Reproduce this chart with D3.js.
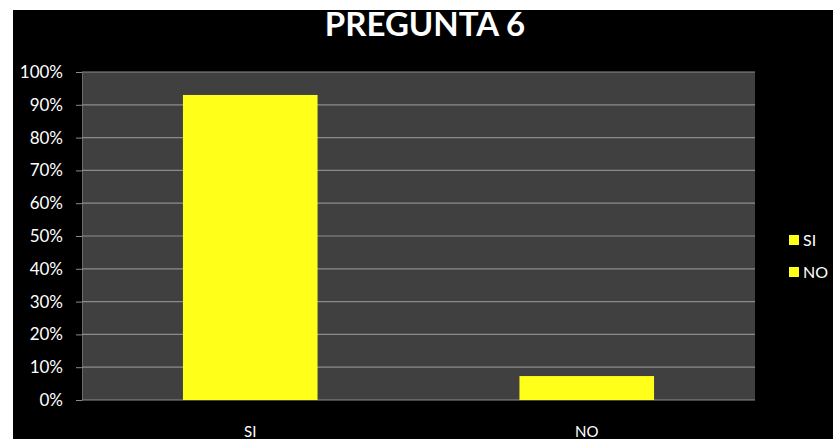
<!DOCTYPE html>
<html><head><meta charset="utf-8">
<script src="https://cdn.jsdelivr.net/npm/d3@7"></script>
<style>body{margin:0;background:#fff}svg{display:block}</style>
</head><body>
<svg id="c" width="833" height="439"></svg>
<script>
const title = "PREGUNTA 6";
const categories = ["SI", "NO"];
const values = [0.93, 0.073];
const yTicks = [0,0.1,0.2,0.3,0.4,0.5,0.6,0.7,0.8,0.9,1.0];
const legendLabels = ["SI", "NO"];

const svg = d3.select("#c");
const font = "Lato, 'Open Sans', sans-serif";
svg.append("rect").attr("x",13).attr("y",10).attr("width",820).attr("height",429).attr("fill","#000");

const m = {l:82, r:755, t:72, b:400};
const x = d3.scaleBand().domain(categories).range([m.l,m.r]).paddingInner(0).paddingOuter(0);
const y = d3.scaleLinear().domain([0,1]).range([m.b,m.t]);

svg.append("rect").attr("x",m.l).attr("y",m.t).attr("width",m.r-m.l).attr("height",m.b-m.t).attr("fill","#404040");

const yAxis = d3.axisLeft(y).tickValues(yTicks).tickFormat(d3.format(".0%")).tickSize(6).tickSizeOuter(0);
const ga = svg.append("g").attr("transform",`translate(${m.l},0)`).call(yAxis);
ga.select(".domain").attr("stroke","#6a6a6a");
ga.selectAll(".tick line").attr("stroke","#8a8a8a");
ga.selectAll(".tick text").attr("fill","#fff").attr("font-family",font).attr("font-size",17).attr("x",-19);

svg.append("g").selectAll("line").data(yTicks).join("line")
  .attr("x1",m.l).attr("x2",m.r).attr("y1",d=>y(d)).attr("y2",d=>y(d))
  .attr("stroke","#8c8c8c").attr("stroke-width",1.2);

const bw = x.bandwidth()*0.4;
svg.append("g").selectAll("rect").data(values).join("rect")
  .attr("x",(d,i)=>x(categories[i])+x.bandwidth()/2-bw/2)
  .attr("width",bw)
  .attr("y",d=>y(d)).attr("height",d=>y(0)-y(d))
  .attr("fill","#ffff1a");

const xAxis = d3.axisBottom(x).tickSize(0);
const gx = svg.append("g").attr("transform",`translate(0,${m.b})`).call(xAxis);
gx.select(".domain").remove();
gx.selectAll(".tick text").attr("fill","#fff").attr("font-family",font).attr("font-size",15).attr("dy",0).attr("y",37);

svg.append("text").attr("x",425).attr("y",36).attr("text-anchor","middle")
  .attr("fill","#fff").attr("font-family",font).attr("font-weight","bold").attr("font-size",33).text(title);

const lg = svg.append("g").selectAll("g").data(legendLabels).join("g")
  .attr("transform",(d,i)=>`translate(789,${240+i*32})`);
lg.append("rect").attr("x",0).attr("y",-5).attr("width",10).attr("height",10).attr("fill","#ffff1a");
lg.append("text").attr("x",14).attr("y",6).attr("fill","#fff").attr("font-family",font).attr("font-size",16).text(d=>d);
</script>
</body></html>
